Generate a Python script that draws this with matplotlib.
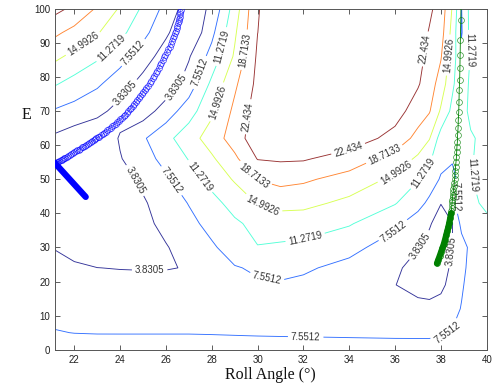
import matplotlib
matplotlib.use('Agg')
import matplotlib.pyplot as plt
import numpy as np

plt.rcParams['font.family'] = ['Liberation Sans', 'DejaVu Sans']

# ---- grid of the contour surface ----
roll = [21.16, 22, 23, 24, 25, 26, 27, 28, 29, 30, 31, 32, 34, 36, 37, 37.5, 38, 38.5, 38.9, 39.3, 40]
e_vals = [0, 5, 12, 19, 24, 30, 37, 43, 50, 56, 62, 70, 78, 86, 93, 100]
z_rows = [
    [9.2, 9.0, 8.95, 8.9, 8.9, 8.9, 8.9, 8.9, 8.9, 8.9, 8.9, 8.9, 8.9, 8.9, 8.9, 8.9, 8.9, 9.0, 9.0, 9.1, 9.3],
    [7.7, 7.5, 7.43, 7.43, 7.43, 7.43, 7.43, 7.38, 7.3, 7.22, 7.16, 7.12, 7.0, 6.87, 6.85, 6.85, 7.3, 7.75, 8.0, 8.3, 8.6],
    [6.6, 6.4, 6.1, 6.0, 6.0, 6.1, 6.3, 6.6, 6.8, 7.0, 7.05, 6.9, 6.3, 5.6, 5.0, 5.0, 5.4, 6.6, 7.7, 8.5, 9.0],
    [5.5, 5.1, 4.7, 4.6, 4.6, 4.7, 5.2, 6.0, 6.7, 7.2, 7.35, 6.9, 5.8, 3.9, 2.5, 2.0, 2.9, 5.3, 7.2, 8.6, 9.3],
    [4.7, 4.2, 3.85, 3.75, 3.7, 3.7, 3.95, 5.9, 7.35, 7.95, 8.1, 8.0, 6.6, 4.6, 2.2, 0.8, 2.0, 4.6, 6.75, 8.4, 9.3],
    [3.7, 3.0, 2.4, 2.2, 2.6, 3.6, 5.35, 7.1, 9.0, 11.15, 10.8, 10.4, 8.55, 5.9, 4.0, 2.0, 0.5, 3.9, 6.2, 8.3, 9.5],
    [2.8, 2.0, 1.5, 1.8, 2.9, 4.8, 6.65, 8.6, 10.7, 12.3, 12.9, 13.0, 11.6, 8.3, 5.9, 4.4, 1.2, 3.7, 8.5, 9.8, 10.8],
    [2.0, 1.2, 0.8, 2.2, 3.4, 5.6, 7.7, 10.1, 12.6, 15.2, 16.3, 16.0, 14.1, 11.5, 8.7, 6.8, 4.0, 6.5, 10.0, 10.8, 11.7],
    [0.8, 0.5, 1.3, 2.2, 4.6, 7.0, 9.7, 12.5, 15.4, 18.85, 19.8, 19.3, 17.3, 14.2, 11.5, 9.4, 7.2, 6.5, 9.0, 11.1, 12.5],
    [0.5, 1.3, 2.5, 3.6, 6.1, 8.7, 11.45, 14.45, 17.95, 22.6, 22.9, 22.8, 20.8, 17.2, 14.35, 11.9, 8.6, 7.9, 8.2, 11.0, 12.5],
    [3.1, 1.8, 0.4, 4.2, 7.1, 10.2, 13.4, 16.7, 20.5, 24.8, 25.0, 24.8, 24.5, 21.2, 17.5, 15.2, 9.6, 8.8, 8.6, 10.5, 13.2],
    [7.2, 6.2, 5.0, 2.4, 2.0, 5.5, 9.6, 14.3, 19.6, 24.2, 25.0, 25.5, 25.2, 24.0, 20.6, 19.0, 14.5, 10.3, 8.4, 13.0, 13.5],
    [11.6, 10.0, 8.1, 5.7, 2.5, 1.5, 5.4, 12.1, 18.0, 23.4, 25.3, 25.9, 26.1, 25.0, 22.8, 20.5, 17.1, 12.0, 8.5, 12.2, 13.5],
    [15.8, 14.0, 11.9, 8.9, 5.7, 2.0, 3.5, 8.9, 15.5, 23.0, 25.5, 26.0, 26.16, 25.5, 23.5, 21.5, 19.0, 12.8, 8.8, 11.5, 13.5],
    [19.4, 17.6, 15.3, 12.3, 8.7, 4.5, 0.3, 6.6, 14.4, 22.4, 25.2, 25.8, 26.1, 25.4, 24.0, 22.2, 20.3, 13.7, 7.2, 12.5, 14.0],
    [23.5, 21.6, 18.3, 14.6, 10.7, 6.4, 1.7, 4.5, 13.0, 22.2, 24.8, 25.4, 25.8, 25.0, 24.0, 23.0, 21.1, 14.7, 7.45, 12.6, 13.8],
]

levels = [3.8305, 7.5512, 11.2719, 14.9926, 18.7133, 22.434]
level_labels = ['3.8305', '7.5512', '11.2719', '14.9926', '18.7133', '22.434']

label_pos = [
    (24.42, 74.2), (26.45, 77.2), (24.7, 49.8), (25.29, 23.7), (37.1, 30.5), (38.5, 29.0),
    (24.55, 87.3), (27.6, 81.0), (26.3, 49.8), (30.4, 21.0), (36.0, 34.1), (32.1, 3.8),
    (38.3, 4.6), (38.62, 45.0),
    (23.7, 87.9), (28.41, 88.9), (27.46, 50.7), (32.1, 32.2), (37.25, 51.7), (39.28, 87.9),
    (39.4, 51.2),
    (22.46, 88.9), (28.4, 72.3), (30.2, 41.9), (36.0, 52.2), (38.33, 86.4),
    (29.5, 87.9), (29.8, 50.7), (35.58, 56.6),
    (29.6, 68.3), (34.0, 57.7), (37.5, 88.0),
]

# ---- left valley path (blue circles) ----
blue_x = [21.16, 21.21, 21.25, 21.30, 21.35, 21.40, 21.45, 21.50, 21.55, 21.61, 21.67, 21.73, 21.80,
          21.86, 21.93, 22.00, 22.06, 22.13, 22.19, 22.26, 22.32, 22.39, 22.45, 22.52, 22.58, 22.65,
          22.71, 22.78, 22.84, 22.91, 22.97, 23.04, 23.10, 23.17, 23.24, 23.31, 23.38, 23.45, 23.52,
          23.59, 23.66, 23.73, 23.80, 23.87, 23.94, 24.01, 24.08, 24.15, 24.22, 24.29, 24.36, 24.43,
          24.49, 24.56, 24.62, 24.69, 24.75, 24.82, 24.88, 24.95, 25.01, 25.08, 25.14, 25.22, 25.29,
          25.36, 25.42, 25.49, 25.55, 25.62, 25.68, 25.74, 25.80, 25.86, 25.92, 25.98, 26.04, 26.10,
          26.16, 26.21, 26.26, 26.31, 26.35, 26.39, 26.43, 26.47, 26.50, 26.53, 26.56, 26.58, 26.60,
          26.62, 26.63, 26.64]
blue_y = [54.7, 54.85, 55.0, 55.15, 55.3, 55.5, 55.7, 55.9, 56.1, 56.35, 56.6, 56.85, 57.1,
          57.35, 57.6, 57.9, 58.2, 58.45, 58.7, 59.0, 59.3, 59.55, 59.8, 60.1, 60.4, 60.65,
          60.9, 61.15, 61.4, 61.7, 62.0, 62.25, 62.5, 62.85, 63.2, 63.55, 63.9, 64.3, 64.7,
          65.1, 65.5, 65.9, 66.3, 66.7, 67.1, 67.55, 68.0, 68.4, 68.8, 69.35, 69.9, 70.45,
          71.0, 71.55, 72.1, 72.65, 73.2, 73.8, 74.4, 75.0, 75.6, 76.2, 76.8, 77.45, 78.1,
          78.85, 79.6, 80.35, 81.1, 81.85, 82.6, 83.35, 84.1, 84.9, 85.7, 86.5, 87.3, 88.1,
          88.9, 89.7, 90.5, 91.3, 92.1, 92.85, 93.6, 94.3, 95.0, 95.7, 96.4, 97.05, 97.7,
          98.35, 99.0, 99.7]
blue_thick_x = [21.16, 22.5]
blue_thick_y = [54.7, 44.8]

# ---- right valley path (green circles) ----
green_thick_x = [37.83, 37.89, 37.95, 38.01, 38.07, 38.13, 38.18, 38.23, 38.28, 38.33, 38.37, 38.41, 38.45]
green_thick_y = [25.3, 26.4, 27.5, 28.65, 29.8, 31.0, 32.2, 33.5, 34.8, 36.05, 37.3, 38.65, 40.0]
green_x = [38.46, 38.47, 38.48, 38.49, 38.50, 38.51, 38.52, 38.54, 38.55, 38.57, 38.58, 38.60, 38.61,
           38.63, 38.64, 38.66, 38.68, 38.69, 38.70, 38.72, 38.73, 38.75, 38.76, 38.78, 38.79, 38.80,
           38.82, 38.83, 38.84, 38.85, 38.87, 38.88]
green_y = [40.8, 41.6, 42.4, 43.2, 44.0, 44.7, 45.4, 46.2, 47.1, 48.0, 49.0, 50.1, 51.2,
           52.4, 53.7, 55.1, 56.6, 58.1, 59.5, 61.0, 63.0, 65.1, 67.4, 69.8, 72.7, 76.2,
           79.1, 82.5, 86.4, 90.8, 96.7, 101.2]

fig = plt.figure(figsize=(4.97, 3.90), dpi=100)
ax = fig.add_axes([0.1107, 0.1033, 0.8686, 0.8744])

Z = np.array(z_rows)
cs = ax.contour(roll, e_vals, Z, levels=levels, cmap='jet',
                vmin=levels[0], vmax=levels[-1], linewidths=0.65, alpha=0.8)
ax.clabel(cs, levels, fmt=dict(zip(levels, level_labels)), manual=label_pos,
          inline=True, inline_spacing=3, fontsize=7, colors='k')

blue = (0, 0, 1)
green = (0, 0.5, 0)
ax.plot(blue_thick_x, blue_thick_y, color=blue, lw=4.5, solid_capstyle='round', zorder=4)
ax.plot(blue_x, blue_y, '-', color=blue, lw=0.4, alpha=0.7, zorder=4)
ax.plot(blue_x, blue_y, 'o', mfc='none', mec=blue, ms=4.2, mew=0.5, alpha=0.75, zorder=4)

ax.plot(green_thick_x, green_thick_y, color=green, lw=4.5, solid_capstyle='round', zorder=4)
ax.plot(green_thick_x, green_thick_y, 'o', mfc='none', mec=green, ms=4.2, mew=0.5, zorder=4)
ax.plot(green_x, green_y, '-', color=green, lw=0.6, zorder=4)
ax.plot(green_x, green_y, 'o', mfc='none', mec=green, ms=4.2, mew=0.5, alpha=0.8, zorder=4)

ax.set_xlim(21.16, 40)
ax.set_ylim(0, 100)
ax.set_xticks(range(22, 41, 2))
ax.set_yticks(range(0, 101, 10))
ax.tick_params(direction='in', length=3.5, width=0.6, top=True, right=True,
               labelsize=7, colors='#444444', labelcolor='#222222')
for s in ax.spines.values():
    s.set_color('#555555')
    s.set_linewidth(0.7)

ax.set_xlabel('Roll Angle (°)', family=['Liberation Serif', 'DejaVu Serif'], fontsize=11.5, color='#111111')
ax.xaxis.set_label_coords(0.498, -0.074)
ax.set_ylabel('E', family=['Liberation Serif', 'DejaVu Serif'], fontsize=11.5, rotation=0, color='#111111')
ax.yaxis.set_label_coords(-0.066, 0.688)
ax.yaxis.label.set_va('center')
ax.xaxis.label.set_va('center')

fig.savefig('out.png', dpi=100)
